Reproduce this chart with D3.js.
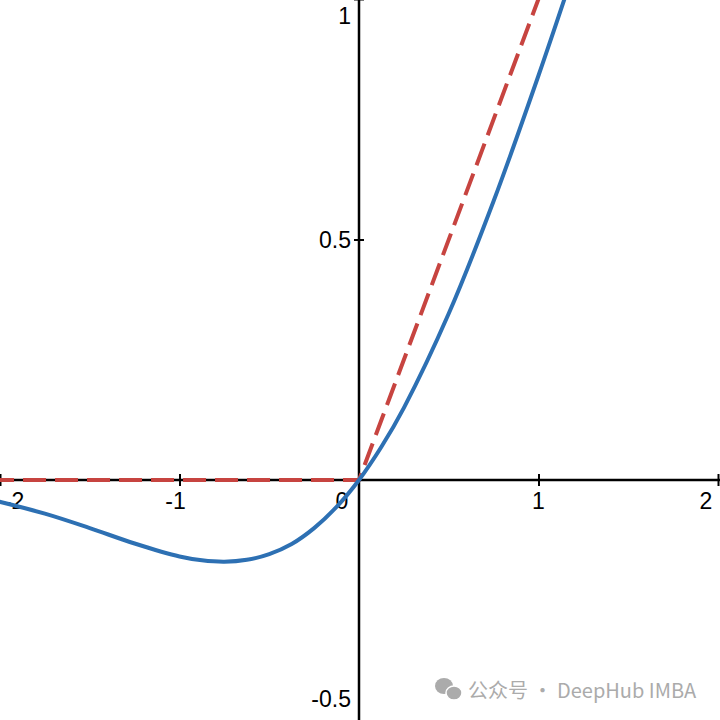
<!DOCTYPE html>
<html>
<head>
<meta charset="utf-8">
<script src="https://cdn.jsdelivr.net/npm/d3@7"></script>
<style>
  html, body { margin: 0; padding: 0; background: #fff; }
  svg { display: block; }
</style>
</head>
<body>
<svg id="chart"></svg>
<script>
// GELU curve (blue)
const geluX = [-2.05, -1.75, -1.5, -1.25, -1, -0.875, -0.75, -0.625, -0.5, -0.375, -0.25, -0.125, 0, 0.125, 0.25, 0.5, 0.75, 1, 1.2];
const geluY = [-0.041, -0.070, -0.100, -0.132, -0.159, -0.167, -0.170, -0.166, -0.154, -0.133, -0.100, -0.056, 0, 0.069, 0.150, 0.346, 0.580, 0.841, 1.062];

// ReLU (red dashed)
const reluX = [-2.05, 0, 1];
const reluY = [0, 0, 1];

const xTicks = [-2, -1, 1, 2];
const yTicks = [-0.5, 0.5, 1];

const width = 720;
const height = 720;

const svg = d3.select('#chart')
  .attr('width', width)
  .attr('height', height);

const x = d3.scaleLinear().domain([-2, 2]).range([0, 718]);
const y = d3.scaleLinear().domain([-0.5, 1]).range([720.5, -1]);

const fontFamily = '"Liberation Sans", Arial, sans-serif';

// x axis through the origin
const xAxis = svg.append('g')
  .attr('transform', `translate(0,${y(0)})`)
  .call(d3.axisBottom(x).tickValues(xTicks).tickSizeInner(12).tickSizeOuter(0).tickFormat(''));
xAxis.select('.domain').attr('stroke', '#000').attr('stroke-width', 2.5).attr('d', `M${x(-2.1)},0H${x(2.1)}`);
xAxis.selectAll('.tick line').attr('stroke', '#000').attr('stroke-width', 2).attr('y1', -6).attr('y2', 6);

// y axis through the origin
const yAxis = svg.append('g')
  .attr('transform', `translate(${x(0)},0)`)
  .call(d3.axisLeft(y).tickValues(yTicks).tickSizeInner(10).tickSizeOuter(0).tickFormat(''));
yAxis.select('.domain').attr('stroke', '#000').attr('stroke-width', 2.5).attr('d', `M0,${y(1.1)}V${y(-0.6)}`);
yAxis.selectAll('.tick line').attr('stroke', '#000').attr('stroke-width', 2).attr('x1', -5).attr('x2', 5);

// tick labels, kept inside the view like the original
const labels = svg.append('g')
  .attr('font-family', fontFamily)
  .attr('font-size', 23)
  .attr('fill', '#000');

labels.selectAll('text.xl')
  .data(xTicks.concat([0]))
  .enter()
  .append('text')
  .attr('class', 'xl')
  .attr('x', (d) => {
    if (d === 0) return x(0) - 17;
    const px = d < 0 ? x(d) - 4 : x(d);
    return Math.max(14, Math.min(706, px));
  })
  .attr('y', y(0) + 29)
  .attr('text-anchor', 'middle')
  .text((d) => d);

labels.selectAll('text.yl')
  .data(yTicks)
  .enter()
  .append('text')
  .attr('class', 'yl')
  .attr('x', x(0) - 8)
  .attr('y', (d) => Math.max(16, Math.min(699, y(d))))
  .attr('dy', '0.36em')
  .attr('text-anchor', 'end')
  .text((d) => d);

// curves
const line = d3.line()
  .x((d) => x(d[0]))
  .y((d) => y(d[1]));

svg.append('path')
  .datum(reluX.map((v, i) => [v, reluY[i]]))
  .attr('fill', 'none')
  .attr('stroke', '#c74440')
  .attr('stroke-width', 4)
  .attr('stroke-dasharray', '23 9')
  .attr('d', line);

svg.append('path')
  .datum(geluX.map((v, i) => [v, geluY[i]]))
  .attr('fill', 'none')
  .attr('stroke', '#2d70b3')
  .attr('stroke-width', 4)
  .attr('d', line.curve(d3.curveCatmullRom.alpha(0.5)));

// watermark
const wm = svg.append('g').attr('fill', '#ababab');
wm.append('ellipse').attr('cx', 444).attr('cy', 686).attr('rx', 9).attr('ry', 8);
wm.append('ellipse').attr('cx', 454).attr('cy', 693).attr('rx', 8).attr('ry', 7).attr('stroke', '#fff').attr('stroke-width', 1.5);
wm.append('text')
  .attr('x', 468)
  .attr('y', 698)
  .attr('font-family', '"Noto Sans CJK SC", "Noto Sans", sans-serif')
  .attr('font-size', 20)
  .text('公众号 · DeepHub IMBA');
</script>
</body>
</html>
